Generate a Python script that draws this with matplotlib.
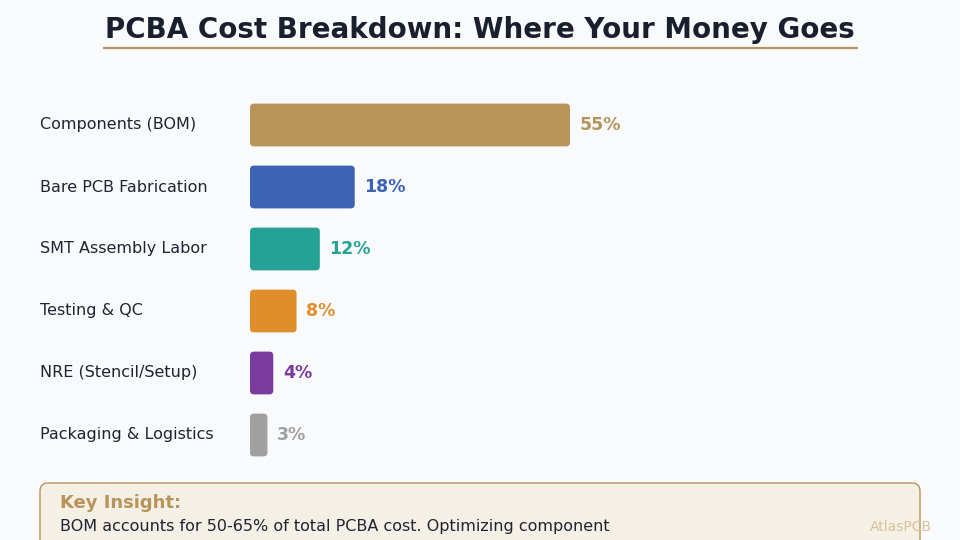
import matplotlib.pyplot as plt
from matplotlib.patches import FancyBboxPatch
from matplotlib.transforms import blended_transform_factory

categories = ["Components (BOM)", "Bare PCB Fabrication", "SMT Assembly Labor",
              "Testing & QC", "NRE (Stencil/Setup)", "Packaging & Logistics"]
shares = [55, 18, 12, 8, 4, 3]
colors = ["#b8935a", "#3d63b5", "#26a196", "#e08e2b", "#7b3aa0", "#a0a0a0"]

title = "PCBA Cost Breakdown: Where Your Money Goes"
insight_head = "Key Insight:"
insight_body = "BOM accounts for 50-65% of total PCBA cost. Optimizing component"
brand = "AtlasPCB"

bg = "#f8fafc"
gold = "#b8935a"

fig = plt.figure(figsize=(9.6, 5.4), dpi=100, facecolor=bg)

# bar area: x from 250px to 890px, rows from 94px to 466px
ax = fig.add_axes([250 / 960, 1 - 466 / 540, 640 / 960, 372 / 540])
ax.set_facecolor("none")
ypos = list(range(len(categories)))
bars = ax.barh(ypos, shares, height=0.69, color=colors)
ax.set_xlim(0, 110)
ax.set_ylim(len(categories) - 0.5, -0.5)
ax.axis("off")

# swap plain rectangles for slightly rounded ones
px_x = 640 / 110
px_y = 372 / len(categories)
for b, c in zip(bars, colors):
    b.set_visible(False)
    r = 4 / px_x
    ax.add_patch(FancyBboxPatch((b.get_x(), b.get_y()), b.get_width(), b.get_height(),
                                boxstyle=f"round,pad=0,rounding_size={r}",
                                mutation_aspect=px_x / px_y,
                                facecolor=c, edgecolor="none"))

for y, v, c in zip(ypos, shares, colors):
    ax.annotate(f"{v}%", (v, y), xytext=(7, 0), textcoords="offset points",
                va="center", ha="left", fontsize=12.5, fontweight="bold", color=c)

lab_tr = blended_transform_factory(fig.transFigure, ax.transData)
for y, name in zip(ypos, categories):
    ax.text(40 / 960, y, name, transform=lab_tr, ha="left", va="center",
            fontsize=11.5, color="#1f2430")

# overlay in pixel units for title and insight box
ov = fig.add_axes([0, 0, 1, 1])
ov.set_xlim(0, 960)
ov.set_ylim(540, 0)
ov.axis("off")
ov.set_facecolor("none")

ov.text(480, 30, title, ha="center", va="center", fontsize=20,
        fontweight="bold", color="#1a1f2e")
ov.plot([103, 858], [48, 48], color=gold, lw=1.6, solid_capstyle="butt")

ov.add_patch(FancyBboxPatch((40, 483), 880, 90,
                            boxstyle="round,pad=0,rounding_size=8",
                            facecolor="#f5f0e6", edgecolor=gold, lw=1.0,
                            clip_on=True))
ov.text(60, 503, insight_head, ha="left", va="center", fontsize=13,
        fontweight="bold", color=gold)
ov.text(60, 526, insight_body, ha="left", va="center", fontsize=11.5,
        color="#1f2430")
ov.text(932, 527, brand, ha="right", va="center", fontsize=10,
        color="#d8c29a")

fig.savefig("out.png", dpi=100, facecolor=bg)
